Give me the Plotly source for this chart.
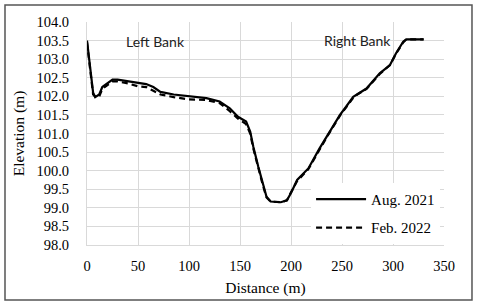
import plotly.graph_objects as go

# Survey data (distance in m, elevation in m)
aug_dist = [0, 3, 6, 8, 12, 15, 20, 25, 30, 40, 50, 58, 65, 72, 85, 99, 117, 130, 140, 148,
            156, 160, 163, 168, 172, 176, 180, 190, 196, 200, 206, 217, 228, 235, 248, 254,
            261, 274, 287, 297, 303, 310, 313, 330]
aug_elev = [103.5, 102.8, 102.1, 101.98, 102.05, 102.25, 102.35, 102.45, 102.45, 102.4, 102.35,
            102.33, 102.25, 102.12, 102.05, 102.0, 101.95, 101.86, 101.68, 101.45, 101.32,
            101.05, 100.65, 100.1, 99.7, 99.3, 99.17, 99.15, 99.2, 99.4, 99.75, 100.06, 100.6,
            100.91, 101.5, 101.72, 101.99, 102.21, 102.62, 102.84, 103.16, 103.47, 103.53, 103.53]

feb_dist = [0, 3, 6, 9, 12, 15, 20, 25, 30, 40, 50, 58, 65, 72, 85, 99, 117, 130, 140, 148,
            156, 160, 163, 168, 172, 176, 180, 190, 196, 200, 206, 217, 228, 235, 248, 254,
            261, 265, 274, 287, 297, 303, 310, 313, 330]
feb_elev = [103.45, 102.7, 102.05, 101.97, 102.0, 102.2, 102.3, 102.4, 102.4, 102.35, 102.27,
            102.25, 102.15, 102.05, 101.98, 101.92, 101.9, 101.82, 101.6, 101.4, 101.25, 101.0,
            100.6, 100.05, 99.65, 99.28, 99.17, 99.15, 99.2, 99.42, 99.72, 100.04, 100.58,
            100.9, 101.48, 101.7, 101.96, 102.05, 102.2, 102.6, 102.84, 103.15, 103.45, 103.53, 103.53]

series_names = ["Aug. 2021", "Feb. 2022"]
bank_labels = ["Left Bank", "Right Bank"]

serif = "Liberation Serif"
grid = "#d9d9d9"

fig = go.Figure()
fig.add_trace(go.Scatter(x=aug_dist, y=aug_elev, mode="lines", name=series_names[0],
                         legendgroup="a", line=dict(color="black", width=2.2)))
fig.add_trace(go.Scatter(x=feb_dist, y=feb_elev, mode="lines", name=series_names[1],
                         legendgroup="b", line=dict(color="black", width=2.2, dash="6px,4px")))

fig.update_layout(
    width=480, height=306,
    margin=dict(l=87, r=36, t=22, b=61),
    paper_bgcolor="white", plot_bgcolor="white",
    font=dict(family=serif, color="black"),
    showlegend=True,
    legend=dict(x=0.989, xanchor="right", y=0.005, yanchor="bottom",
                bgcolor="white", borderwidth=0, tracegroupgap=6,
                font=dict(family=serif, size=15, color="black"),
                itemwidth=50),
    xaxis=dict(range=[0, 350], dtick=50, showgrid=True, gridcolor=grid, gridwidth=1,
               showline=True, linecolor=grid, zeroline=False, ticks="",
               tickfont=dict(family=serif, size=14.5, color="black"),
               ticklabelstandoff=8,
               title=dict(text="Distance (m)", font=dict(family=serif, size=15.5, color="black"),
                          standoff=8)),
    yaxis=dict(range=[98, 104], dtick=0.5, tickformat=".1f", showgrid=True, gridcolor=grid,
               gridwidth=1, showline=True, linecolor=grid, zeroline=False, ticks="",
               tickfont=dict(family=serif, size=14.5, color="black"),
               ticklabelstandoff=14,
               title=dict(text="Elevation (m)", font=dict(family=serif, size=15.5, color="black"),
                          standoff=8)),
    annotations=[
        dict(text=bank_labels[0], x=0.105, y=0.96, xref="paper", yref="paper",
             showarrow=False, font=dict(family="Lato", size=14, color="#222")),
        dict(text=bank_labels[1], x=0.8585, y=0.965, xref="paper", yref="paper",
             showarrow=False, font=dict(family="Lato", size=14, color="#222")),
    ],
    shapes=[dict(type="rect", xref="paper", yref="paper", x0=-0.2297, x1=1.0784,
                 y0=-0.2466, y1=1.0762, line=dict(color="#555", width=1.5), layer="below")],
)

fig.write_html("out.html", config={"displayModeBar": False},
               post_script="document.body.style.margin='0';document.body.style.overflow='hidden';")
